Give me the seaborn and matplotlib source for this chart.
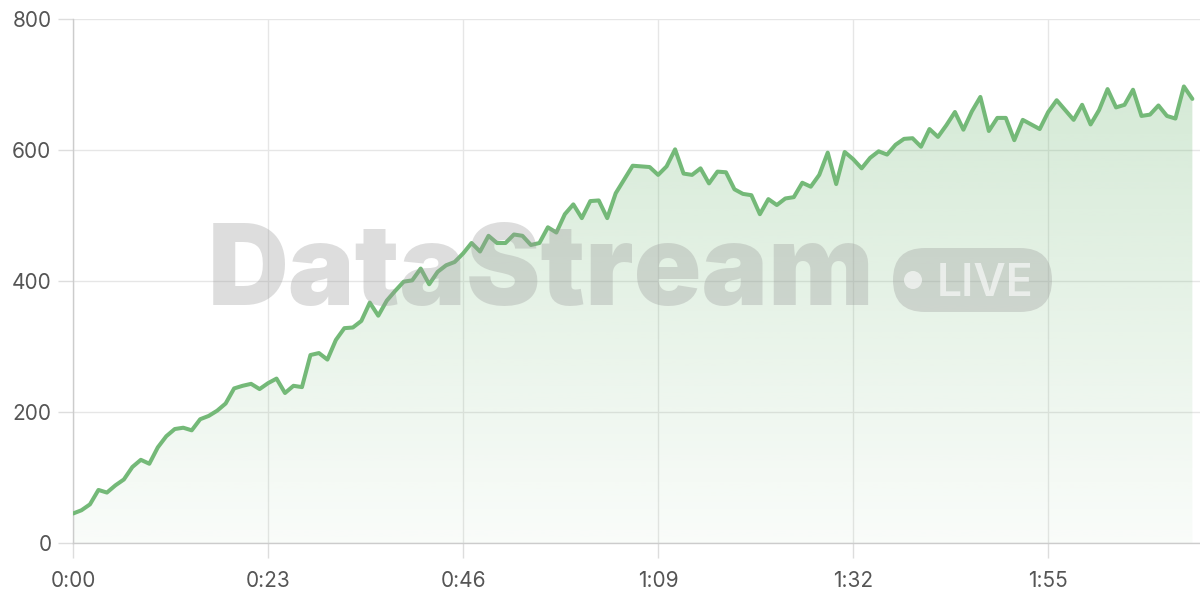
import numpy as np
import pandas as pd
import matplotlib
matplotlib.use("Agg")
import matplotlib.pyplot as plt
import seaborn as sns
from matplotlib.colors import LinearSegmentedColormap
from matplotlib.patches import Polygon, FancyBboxPatch, Circle

# seconds since start, one sample per second
elapsed_s = list(range(133))
rate = [45, 50, 59, 81, 77, 88, 97, 116, 127, 121,
        146, 163, 174, 176, 172, 189, 194, 202, 213, 236,
        240, 243, 235, 244, 251, 229, 240, 238, 287, 290,
        280, 310, 328, 329, 339, 367, 347, 370, 385, 399,
        401, 419, 395, 414, 424, 429, 442, 458, 445, 469,
        458, 458, 471, 469, 455, 458, 482, 474, 502, 517,
        496, 522, 523, 496, 534, 555, 576, 575, 574, 562,
        575, 601, 564, 562, 572, 549, 567, 566, 540, 533,
        531, 502, 525, 516, 526, 528, 550, 544, 562, 596,
        548, 597, 586, 572, 588, 598, 593, 608, 617, 618,
        605, 632, 620, 638, 658, 631, 659, 681, 629, 649,
        649, 615, 646, 639, 632, 658, 676, 661, 646, 669,
        639, 661, 693, 665, 669, 692, 652, 654, 668, 652,
        648, 697, 678]

x_ticks = [0, 23, 46, 69, 92, 115]
x_labels = ['0:00', '0:23', '0:46', '1:09', '1:32', '1:55']
y_ticks = [0, 200, 400, 600, 800]

line_color = '#74b978'

sns.set_theme(style="white")
plt.rcParams['font.family'] = ['Inter', 'DejaVu Sans']

df = pd.DataFrame({'t': elapsed_s, 'v': rate})

fig = plt.figure(figsize=(12, 6), dpi=100)
ax = fig.add_axes([73 / 1200, 57 / 600, 1 - 73 / 1200, 524 / 600])

ax.set_xlim(0, 132.9)
ax.set_ylim(0, 800)

# gradient area under the line
rgb = matplotlib.colors.to_rgb(line_color)
cmap = LinearSegmentedColormap.from_list('fade', [(*rgb, 0.04), (*rgb, 0.34)])
grad = np.linspace(0, 1, 256).reshape(-1, 1)
im = ax.imshow(grad, extent=[0, elapsed_s[-1], 0, 800], origin='lower',
               aspect='auto', cmap=cmap, zorder=1)
verts = [(elapsed_s[0], 0)] + list(zip(elapsed_s, rate)) + [(elapsed_s[-1], 0)]
poly = Polygon(verts, closed=True, facecolor='none', edgecolor='none')
ax.add_patch(poly)
im.set_clip_path(poly)

sns.lineplot(data=df, x='t', y='v', ax=ax, color=line_color, linewidth=2.9, zorder=3)

ax.set_xticks(x_ticks)
ax.set_xticklabels(x_labels)
ax.set_yticks(y_ticks)
ax.set_xlabel('')
ax.set_ylabel('')
ax.grid(True, color='#e6e6e6', linewidth=1)
ax.set_axisbelow(True)
for s in ['top', 'right']:
    ax.spines[s].set_visible(False)
for s in ['left', 'bottom']:
    ax.spines[s].set_color('#cccccc')
    ax.spines[s].set_linewidth(1)
ax.tick_params(axis='y', length=11, width=1, color='#dddddd', pad=4.5,
               labelsize=15, labelcolor='#555555', left=True)
ax.tick_params(axis='x', length=11, width=1, color='#dddddd', pad=9,
               labelsize=15, labelcolor='#555555', bottom=True)

# watermark
fig.text(208 / 1200, 1 - 305 / 600, 'DataStream', fontsize=80.5, fontweight=900,
         color='#999999', alpha=0.33, ha='left', va='baseline', zorder=2.5,
         family=['Inter', 'DejaVu Sans'])
pill = FancyBboxPatch((893 + 32, 600 - 280), 159 - 64, 0,
                      boxstyle='round,pad=32,rounding_size=32',
                      transform=None, facecolor='#999999', alpha=0.33,
                      edgecolor='none', zorder=2.5)
fig.add_artist(pill)
fig.add_artist(Circle((913, 600 - 280), 9, transform=None, facecolor='white',
                      alpha=0.6, edgecolor='none', zorder=2.6))
fig.text(937 / 1200, 1 - 296 / 600, 'LIVE', fontsize=32, fontweight='semibold',
         color='white', alpha=0.6, ha='left', va='baseline', zorder=2.6)

fig.savefig('out.png', dpi=100)
